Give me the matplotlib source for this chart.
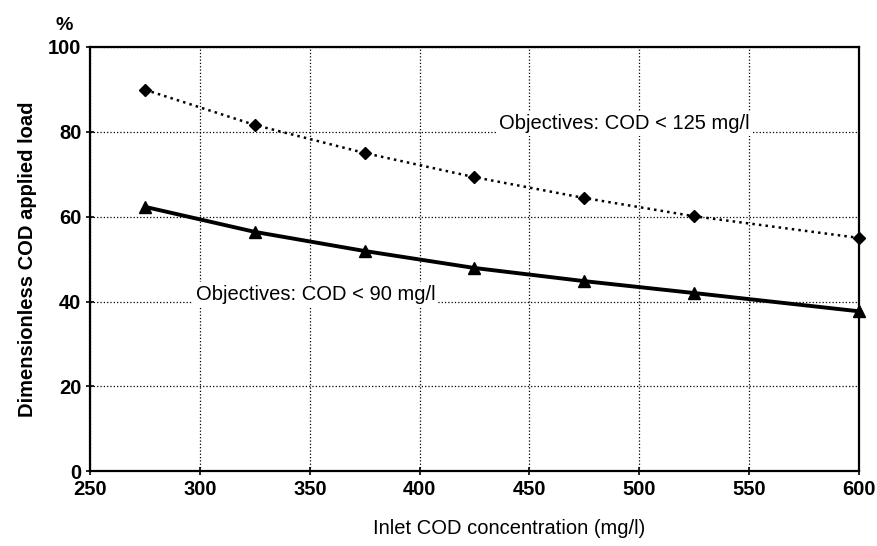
import numpy as np
import matplotlib as mpl
mpl.use('Agg')
import matplotlib.pyplot as plt

plt.rcParams['font.family'] = ['Liberation Sans', 'DejaVu Sans']

inlet_cod = [275, 325, 375, 425, 475, 525, 600]
load_125 = [89.9, 81.6, 75.0, 69.3, 64.4, 60.1, 55.0]
load_90 = [62.3, 56.4, 51.9, 47.9, 44.8, 42.0, 37.7]

fig = plt.figure(figsize=(8.77, 5.46), dpi=100)
ax = fig.add_axes([0.103, 0.137, 0.876, 0.777])

ax.plot(inlet_cod, load_125, color='k', linestyle=':', linewidth=1.8,
        marker='D', markersize=6.5, zorder=3, clip_on=False)
ax.plot(inlet_cod, load_90, color='k', linestyle='-', linewidth=2.8,
        marker='^', markersize=8, zorder=3, clip_on=False)

ax.set_xlim(250, 600)
ax.set_ylim(0, 100)
ax.set_xticks(np.arange(250, 601, 50))
ax.set_yticks(np.arange(0, 101, 20))
ax.grid(True, color='k', linestyle=':', linewidth=0.9)
ax.set_axisbelow(True)
for s in ax.spines.values():
    s.set_linewidth(1.6)
ax.tick_params(direction='inout', length=6, width=1.2, labelsize=14.5)
for lab in ax.get_xticklabels() + ax.get_yticklabels():
    lab.set_fontweight('bold')

props = dict(boxstyle='square,pad=0.15', facecolor='w', edgecolor='none')
ax.text(436, 82, 'Objectives: COD < 125 mg/l', fontsize=14.5, va='center',
        ha='left', bbox=props, zorder=2)
ax.text(298, 41.7, 'Objectives: COD < 90 mg/l', fontsize=14.5, va='center',
        ha='left', bbox=props, zorder=2)

ax.set_xlabel('Inlet COD concentration (mg/l)', fontsize=14.5)
ax.xaxis.set_label_coords(0.545, -0.112)
ax.set_ylabel('Dimensionless COD applied load', fontsize=14.5, fontweight='bold',
              labelpad=8)
fig.text(0.063, 0.945, '%', fontsize=14, fontweight='bold')

plt.savefig('out.png', dpi=100)
